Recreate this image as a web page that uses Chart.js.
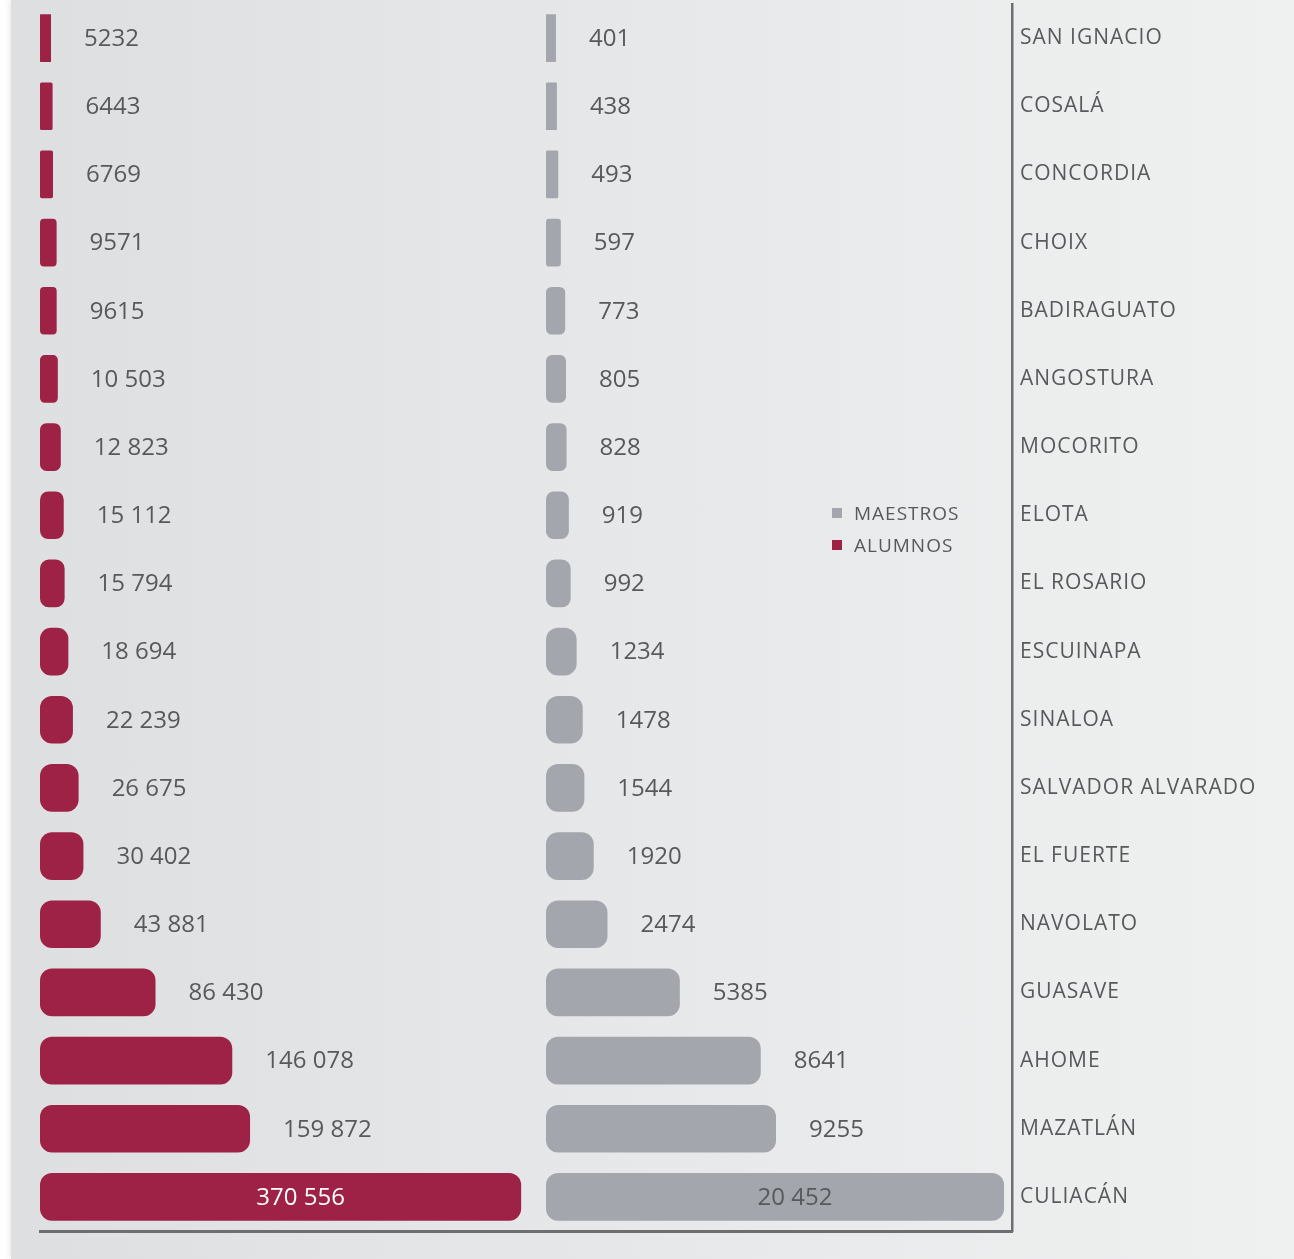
<!DOCTYPE html>
<html lang="es">
<head>
<meta charset="utf-8">
<title>Alumnos y maestros por municipio</title>
<script src="https://cdn.jsdelivr.net/npm/chart.js@4.4.1/dist/chart.umd.min.js"></script>
<style>
  html, body { margin: 0; padding: 0; background: #fff; }
  .panel {
    position: absolute; left: 11px; top: 0; width: 1283px; height: 1259px;
    background: linear-gradient(to right, #dedfe1 0%, #e7e8e9 50%, #eff0f0 100%);
    box-shadow: -2px 0 5px rgba(0, 0, 0, 0.08);
  }
  .legend {
    position: absolute; left: 821px; top: 497px;
    font-family: "Open Sans", sans-serif; font-size: 19px; letter-spacing: 1px; color: #58595b;
  }
  .legend div { height: 32px; line-height: 26px; display: flex; align-items: center; }
  .legend span.sw { display: inline-block; width: 10px; height: 10px; margin-right: 12px; }
</style>
</head>
<body>
<div class="panel">
  <canvas id="chart"></canvas>
  <div class="legend" id="legend"></div>
</div>
<script>
  // categories, top to bottom
  const municipios = ['SAN IGNACIO', 'COSALÁ', 'CONCORDIA', 'CHOIX', 'BADIRAGUATO', 'ANGOSTURA',
    'MOCORITO', 'ELOTA', 'EL ROSARIO', 'ESCUINAPA', 'SINALOA', 'SALVADOR ALVARADO',
    'EL FUERTE', 'NAVOLATO', 'GUASAVE', 'AHOME', 'MAZATLÁN', 'CULIACÁN'];

  const alumnos = [5232, 6443, 6769, 9571, 9615, 10503, 12823, 15112, 15794, 18694,
    22239, 26675, 30402, 43881, 86430, 146078, 159872, 370556];

  const maestros = [401, 438, 493, 597, 773, 805, 828, 919, 992, 1234,
    1478, 1544, 1920, 2474, 5385, 8641, 9255, 20452];

  const COLOR_ALUMNOS = '#9e2246';
  const COLOR_MAESTROS = '#a3a7ad';
  const TEXT_COLOR = '#58595b';
  const LINE_COLOR = '#6d6e70';

  // alumnos bars start a little left of zero, maestros bar for Culiacán is cut at the panel edge
  const ALUMNOS_BASE = -3340;
  const ALUMNOS_MAX = 389860;
  const MAESTROS_MAX = 18750;
  const MAESTROS_CAP = 18430;

  const LABEL_GAP = 33;

  function formatValue(v) {
    if (v < 10000) return String(v);
    return String(v).replace(/\B(?=(\d{3})+(?!\d))/g, ' ');
  }

  const rawValues = [alumnos, maestros];
  const insideColors = ['#ffffff', TEXT_COLOR];

  // thin bars stay square, wider ones get rounded ends
  function barRadius(context) {
    const scale = context.chart.scales[context.dataset.xAxisID];
    const v = context.raw;
    const base = context.dataset.base !== undefined ? context.dataset.base : 0;
    const w = scale.getPixelForValue(v) - scale.getPixelForValue(base);
    return Math.min(12, Math.max(0, (w - 10) * 0.6));
  }

  // wider letter spacing for every text drawn on the canvas
  const spacing = {
    id: 'spacing',
    beforeDraw(chart) {
      chart.ctx.letterSpacing = '1px';
    }
  };

  // value labels next to each bar (inside the bar when it does not fit)
  const valueLabels = {
    id: 'valueLabels',
    afterDatasetsDraw(chart) {
      const ctx = chart.ctx;
      ctx.save();
      ctx.letterSpacing = '0px';
      ctx.font = '24px "Open Sans"';
      ctx.textBaseline = 'middle';
      chart.data.datasets.forEach(function(ds, i) {
        const meta = chart.getDatasetMeta(i);
        const scale = chart.scales[meta.xAxisID];
        meta.data.forEach(function(bar, j) {
          const text = formatValue(rawValues[i][j]);
          const w = ctx.measureText(text).width;
          const x = bar.x + LABEL_GAP;
          if (x + w > scale.right) {
            ctx.fillStyle = insideColors[i];
            ctx.textAlign = 'center';
            ctx.fillText(text, (bar.base + bar.x) / 2 + 20, bar.y + 1);
          } else {
            ctx.fillStyle = TEXT_COLOR;
            ctx.textAlign = 'left';
            ctx.fillText(text, x, bar.y + 1);
          }
        });
      });
      ctx.restore();
    }
  };

  const chart = new Chart(document.getElementById('chart'), {
    type: 'bar',
    data: {
      labels: municipios,
      datasets: [
        {
          label: 'ALUMNOS',
          data: alumnos,
          xAxisID: 'xAlumnos',
          base: ALUMNOS_BASE,
          backgroundColor: COLOR_ALUMNOS
        },
        {
          label: 'MAESTROS',
          data: maestros.map(function(v) { return Math.min(v, MAESTROS_CAP); }),
          xAxisID: 'xMaestros',
          backgroundColor: COLOR_MAESTROS
        }
      ]
    },
    options: {
      indexAxis: 'y',
      responsive: true,
      maintainAspectRatio: false,
      animation: false,
      grouped: false,
      barPercentage: 0.7,
      categoryPercentage: 1,
      borderRadius: barRadius,
      borderSkipped: false,
      layout: { padding: { left: 29, top: 4, right: 0, bottom: 28 } },
      plugins: {
        legend: { display: false },
        tooltip: { enabled: false }
      },
      scales: {
        xAlumnos: {
          type: 'linear',
          position: 'bottom',
          stack: 'x',
          stackWeight: 506,
          min: ALUMNOS_BASE,
          max: ALUMNOS_MAX,
          grid: { display: false, drawTicks: false },
          ticks: { display: false },
          border: { display: true, color: LINE_COLOR, width: 3 },
          afterFit: function(scale) { scale.height = 0; }
        },
        xMaestros: {
          type: 'linear',
          position: 'bottom',
          stack: 'x',
          stackWeight: 466,
          min: 0,
          max: MAESTROS_MAX,
          grid: { display: false, drawTicks: false },
          ticks: { display: false },
          border: { display: true, color: LINE_COLOR, width: 3 },
          afterFit: function(scale) { scale.height = 0; }
        },
        y: {
          position: 'right',
          grid: { display: false, drawTicks: false },
          border: { display: true, color: LINE_COLOR, width: 2.5 },
          ticks: {
            padding: 8,
            color: TEXT_COLOR,
            font: { family: '"Open Sans"', size: 21 }
          },
          afterFit: function(scale) {
            scale.width = 282;
            scale.paddingTop = 0;
            scale.paddingBottom = 0;
          }
        }
      }
    },
    plugins: [spacing, valueLabels]
  });

  // legend: maestros first, then alumnos
  const legend = document.getElementById('legend');
  [1, 0].forEach(function(i) {
    const ds = chart.data.datasets[i];
    const item = document.createElement('div');
    item.innerHTML = '<span class="sw" style="background:' + ds.backgroundColor + '"></span>' + ds.label;
    legend.appendChild(item);
  });
</script>
</body>
</html>
